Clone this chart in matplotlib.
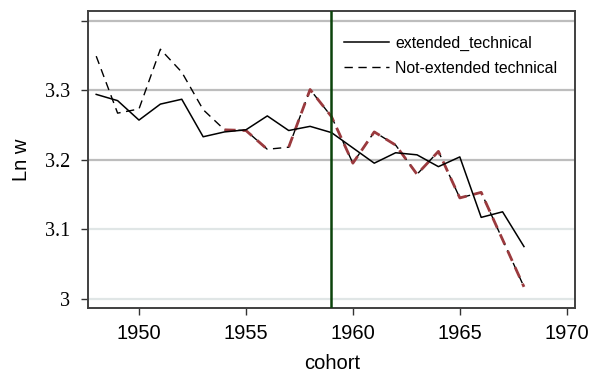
import matplotlib
matplotlib.use("Agg")
import matplotlib.pyplot as plt

# data
years = list(range(1948, 1969))
extended = [3.294, 3.285, 3.257, 3.280, 3.287, 3.233, 3.240, 3.243, 3.263, 3.242,
            3.248, 3.239, 3.217, 3.195, 3.210, 3.207, 3.190, 3.204, 3.117, 3.125, 3.075]
not_extended = [3.349, 3.267, 3.273, 3.359, 3.326, 3.272, 3.243, 3.242, 3.215, 3.218,
                3.301, 3.262, 3.195, 3.240, 3.221, 3.179, 3.212, 3.145, 3.153, 3.085, 3.017]
# year spans where the not-extended line is drawn in red
red_spans = [(1954, 1956), (1957, 1968)]
cutoff = 1959

x_ticks = [1950, 1955, 1960, 1965, 1970]
y_ticks = [3.0, 3.1, 3.2, 3.3, 3.4]
y_labels = ["3", "3.1", "3.2", "3.3", ""]

plt.rcParams['font.family'] = ['Liberation Sans', 'DejaVu Sans']

fig = plt.figure(figsize=(6.05, 3.8), dpi=100)
ax = fig.add_axes([88.3 / 605, 1 - 307.7 / 380, (575.3 - 88.3) / 605, (307.7 - 11) / 380])

# horizontal grid lines (upper ones darker)
for y in y_ticks:
    c = '#bdbdbd' if y >= 3.2 else '#e0e6e6'
    ax.axhline(y, color=c, lw=1.6, zorder=0)

ax.plot(years, extended, color='black', lw=1.1, label='extended_technical', zorder=3)
ax.plot(years, not_extended, color='black', lw=1.0, dashes=(6, 4),
        label='Not-extended technical', zorder=2)
for a, b in red_spans:
    i0, i1 = years.index(a), years.index(b) + 1
    ax.plot(years[i0:i1], not_extended[i0:i1], color='#9b3a3e', lw=2.0,
            dashes=(4, 2.5), zorder=2.5)

ax.axvline(cutoff, color='#0b430b', lw=1.8, zorder=4)

ax.set_xlim(1947.63, 1970.4)
ax.set_ylim(2.987, 3.414)
ax.set_xticks(x_ticks)
ax.set_yticks(y_ticks)
ax.set_yticklabels(y_labels, family='Liberation Serif', fontsize=14.5)
ax.tick_params(axis='x', labelsize=14.5, length=5, width=1, pad=7, color='#333333')
ax.tick_params(axis='y', length=5, width=1, pad=8, color='#333333')

for s in ax.spines.values():
    s.set_color('#404040')
    s.set_linewidth(1.4)

ax.set_xlabel('cohort', fontsize=14.5, labelpad=8)
ax.set_ylabel('Ln w', fontsize=14.5, labelpad=10)

fig.legend(loc='upper left', bbox_to_anchor=(344 / 605, 1 - 36 / 380), frameon=False,
           fontsize=11.4, handlelength=2.85, handletextpad=0.4, labelspacing=0.6,
           borderpad=0, borderaxespad=0)

fig.savefig('out.png', dpi=100)
